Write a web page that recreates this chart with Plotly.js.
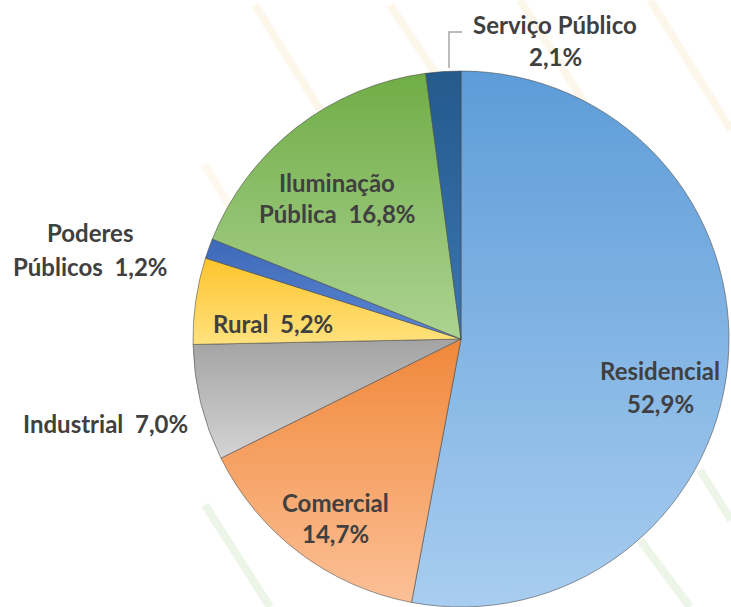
<!DOCTYPE html>
<html>
<head>
<meta charset="utf-8">
<script src="https://cdn.plot.ly/plotly-3.0.1.min.js"></script>
<style>
  html, body { margin: 0; padding: 0; background: #ffffff; overflow: hidden; }
  #chart { width: 731px; height: 607px; }
</style>
</head>
<body>
<div id="chart"></div>
<script>
// ---- data ----
const categories = ["Residencial", "Comercial", "Industrial", "Rural", "Poderes Públicos", "Iluminação Pública", "Serviço Público"];
const shares = [52.9, 14.7, 7.0, 5.2, 1.2, 16.8, 2.1];
const sliceColors = ["#7fb1e4", "#f59d5f", "#b8b8b8", "#fdcf44", "#4472c4", "#8dc16a", "#2c679f"];
// top / bottom tones for the vertical shading of each slice
const shadeTop = ["#5d9cd8", "#f0883a", "#a3a3a3", "#fcc42c", "#3e69b8", "#70ad47", "#245a8c"];
const shadeBottom = ["#a8cdf0", "#fcc096", "#d4d4d4", "#ffe27e", "#5b86d2", "#acd391", "#3a76b2"];

// ---- label layout (positions in pixels, line splitting) ----
const W = 731, H = 607;
// split: 'value' => name / value on two lines; 'name' => first word / rest + value; 'none' => one line
const labelSpec = [
  {split: "value", x: 660, y: [370, 403]},
  {split: "value", x: 335, y: [502, 533]},
  {split: "none",  x: 105, y: [423]},
  {split: "none",  x: 273, y: [323]},
  {split: "name",  x: 90,  y: [232, 266]},
  {split: "name",  x: 337, y: [182, 213]},
  {split: "value", x: 555, y: [25, 57]}
];

function fmt(v) { return v.toFixed(1).replace(".", ",") + "%"; }

const annotations = [];
categories.forEach((name, i) => {
  const s = labelSpec[i];
  let lines;
  if (s.split === "value") lines = [name, fmt(shares[i])];
  else if (s.split === "name") {
    const parts = name.split(" ");
    lines = [parts[0], parts.slice(1).join(" ") + "\u00a0\u00a0" + fmt(shares[i])];
  } else lines = [name + "\u00a0\u00a0" + fmt(shares[i])];
  lines.forEach((t, k) => {
    annotations.push({
      text: "<b>" + t + "</b>",
      xref: "paper", yref: "paper",
      x: s.x / W, y: 1 - s.y[k] / H,
      xanchor: "center", yanchor: "middle",
      showarrow: false,
      font: {family: "Lato, 'Open Sans', sans-serif", size: 24, color: "#404040"}
    });
  });
});

// pie geometry: center (461,339), radius 268
const cx = 461, cy = 339, r = 268;

// faint decorative background stripes
const stripes = [
  {x0: 255, y0: 5, x1: 345, y1: 150, c: "rgba(250,228,190,0.3)"},
  {x0: 390, y0: 5, x1: 440, y1: 80, c: "rgba(250,228,190,0.3)"},
  {x0: 520, y0: 0, x1: 620, y1: 160, c: "rgba(250,228,190,0.3)"},
  {x0: 650, y0: 0, x1: 731, y1: 130, c: "rgba(250,228,190,0.3)"},
  {x0: 205, y0: 165, x1: 250, y1: 240, c: "rgba(250,228,190,0.25)"},
  {x0: 205, y0: 505, x1: 270, y1: 607, c: "rgba(215,232,205,0.45)"},
  {x0: 640, y0: 540, x1: 690, y1: 607, c: "rgba(215,232,205,0.45)"},
  {x0: 700, y0: 470, x1: 731, y1: 520, c: "rgba(215,232,205,0.45)"}
];
const shapes = stripes.map(s => ({
  type: "line", xref: "paper", yref: "paper", layer: "below",
  x0: s.x0 / W, y0: 1 - s.y0 / H, x1: s.x1 / W, y1: 1 - s.y1 / H,
  line: {color: s.c, width: 8}
}));
// leader line for Serviço Público
shapes.push({
  type: "path", xref: "paper", yref: "paper",
  path: "M " + (449 / W) + " " + (1 - 68 / H) + " L " + (449 / W) + " " + (1 - 32 / H) + " L " + (462 / W) + " " + (1 - 32 / H),
  line: {color: "#a6a6a6", width: 1.5}
});

const trace = {
  type: "pie",
  labels: categories,
  values: shares,
  sort: false,
  direction: "clockwise",
  rotation: 0,
  textinfo: "none",
  hoverinfo: "label+percent",
  marker: {colors: sliceColors, line: {color: "rgba(70,70,70,0.55)", width: 1}},
  domain: {x: [(cx - r) / W, (cx + r) / W], y: [(H - cy - r) / H, (H - cy + r) / H]},
  showlegend: false
};

const layout = {
  width: W, height: H,
  margin: {l: 0, r: 0, t: 0, b: 0},
  paper_bgcolor: "#ffffff",
  showlegend: false,
  shapes: shapes,
  annotations: annotations
};

Plotly.newPlot("chart", [trace], layout, {displayModeBar: false, staticPlot: true}).then(gd => {
  // add vertical shading to each slice, like the reference's gradient fills
  const svg = gd.querySelector("svg.main-svg");
  const NS = "http://www.w3.org/2000/svg";
  let defs = svg.querySelector("defs");
  if (!defs) { defs = document.createElementNS(NS, "defs"); svg.insertBefore(defs, svg.firstChild); }
  categories.forEach((c, i) => {
    const g = document.createElementNS(NS, "linearGradient");
    g.setAttribute("id", "shade" + i);
    g.setAttribute("x1", "0"); g.setAttribute("y1", "0");
    g.setAttribute("x2", "0"); g.setAttribute("y2", "1");
    [[0, shadeTop[i]], [1, shadeBottom[i]]].forEach(([o, col]) => {
      const st = document.createElementNS(NS, "stop");
      st.setAttribute("offset", o);
      st.setAttribute("stop-color", col);
      g.appendChild(st);
    });
    defs.appendChild(g);
  });
  gd.querySelectorAll("g.slice").forEach(sl => {
    const d = sl.__data__;
    const idx = d && (d.i !== undefined ? d.i : d.pts && d.pts[0]);
    const path = sl.querySelector("path.surface");
    if (path && idx !== undefined) path.style.fill = "url(#shade" + idx + ")";
  });
});
</script>
</body>
</html>
